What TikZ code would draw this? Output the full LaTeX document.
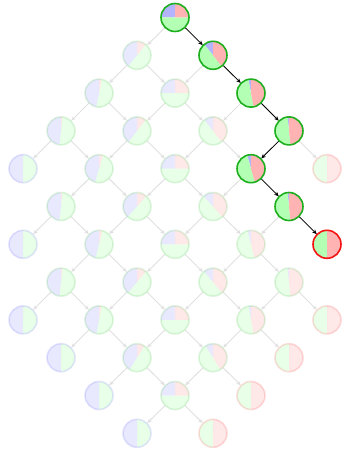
\documentclass[tikz,border=0pt]{standalone}
\usetikzlibrary{arrows.meta}
\definecolor{pieB}{RGB}{179,179,255}
\definecolor{pieG}{RGB}{179,255,179}
\definecolor{pieR}{RGB}{255,179,179}
\definecolor{bdG}{RGB}{30,175,30}
\definecolor{bdR}{RGB}{245,20,20}
\definecolor{bdB}{RGB}{70,70,245}
\definecolor{edgeF}{RGB}{224,224,224}
\newcommand\pienode[5]{%
 \pgfmathsetmacro\bop{(#4)^1.6}%
 \begin{scope}[shift={(n-#1-#2.center)}, opacity=#4]
  \fill[pieB] (0,0) -- (90:14pt) arc[start angle=90, delta angle=#3, radius=14pt] -- cycle;
  \fill[pieG] (0,0) -- ({90+#3}:14pt) arc[start angle={90+#3}, delta angle=180, radius=14pt] -- cycle;
  \fill[pieR] (0,0) -- ({270+#3}:14pt) arc[start angle={270+#3}, end angle=450, radius=14pt] -- cycle;
  \draw[color=#5, line width=1.6pt, draw opacity=\bop] (0,0) circle[radius=14pt];
 \end{scope}}
\begin{document}
\begin{tikzpicture}[x=1pt,y=1pt,
  cell/.style={circle, minimum size=29pt, inner sep=0pt, outer sep=0pt},
  fedge/.style={draw=edgeF, line width=0.9pt, -{Stealth[length=4.5pt,width=4pt]}},
  pedge/.style={draw=black, line width=0.8pt, -{Stealth[length=4.5pt,width=4pt]}}]
\useasboundingbox (0,0) rectangle (342,-454);
% node anchors
\foreach \a/\b in {0/0,1/0,0/1,2/0,1/1,0/2,3/0,2/1,1/2,0/3,4/0,3/1,2/2,1/3,0/4,
  4/1,3/2,2/3,1/4,5/1,4/2,3/3,2/4,1/5,5/2,4/3,3/4,2/5,6/2,5/3,4/4,3/5,2/6,
  6/3,5/4,4/5,3/6,6/4,5/5,4/6,6/5,5/6} {
  \pgfmathsetmacro\px{175+38*(\b-\a)}
  \pgfmathsetmacro\py{-(17.5+37.8*(\a+\b))}
  \node[cell] (n-\a-\b) at (\px,\py) {};
}
% faded edges
\foreach \a/\b in {0/0,1/0,0/1,2/0,1/1,0/2,3/0,2/1,1/2,0/3,3/1,2/2,1/3,
  4/1,3/2,2/3,1/4,4/2,3/3,2/4,5/2,4/3,3/4,2/5,5/3,4/4,3/5,5/4,4/5,5/5} {
  \pgfmathtruncatemacro\aa{\a+1}
  \pgfmathtruncatemacro\bb{\b+1}
  \draw[fedge] (n-\a-\b) -- (n-\aa-\b);
  \draw[fedge] (n-\a-\b) -- (n-\a-\bb);
}
% chosen path
\draw[pedge] (n-0-0) -- (n-0-1);
\draw[pedge] (n-0-1) -- (n-0-2);
\draw[pedge] (n-0-2) -- (n-0-3);
\draw[pedge] (n-0-3) -- (n-1-3);
\draw[pedge] (n-1-3) -- (n-1-4);
\draw[pedge] (n-1-4) -- (n-1-5);
% pies
\foreach \a/\b/\t/\o/\c in {0/0/90/1/bdG,1/0/141/.3/bdG,0/1/39/1/bdG,
  2/0/169/.3/bdG,1/1/90/.3/bdG,0/2/11/1/bdG,
  3/0/174/.3/bdG,2/1/142/.3/bdG,1/2/38/.3/bdG,0/3/6/1/bdG,
  4/0/180/.3/bdB,3/1/164/.3/bdG,2/2/90/.3/bdG,1/3/16/1/bdG,0/4/0/.3/bdR,
  4/1/174/.3/bdG,3/2/138/.3/bdG,2/3/42/.3/bdG,1/4/6/1/bdG,
  5/1/180/.3/bdB,4/2/166/.3/bdG,3/3/90/.3/bdG,2/4/14/.3/bdG,1/5/0/1/bdR,
  5/2/174/.3/bdG,4/3/140/.3/bdG,3/4/40/.3/bdG,2/5/6/.3/bdG,
  6/2/180/.3/bdB,5/3/170/.3/bdG,4/4/90/.3/bdG,3/5/10/.3/bdG,2/6/0/.3/bdR,
  6/3/180/.3/bdB,5/4/148/.3/bdG,4/5/32/.3/bdG,3/6/0/.3/bdR,
  6/4/180/.3/bdB,5/5/90/.3/bdG,4/6/0/.3/bdR,
  6/5/180/.3/bdB,5/6/0/.3/bdR} {
  \pienode{\a}{\b}{\t}{\o}{\c}
}
\end{tikzpicture}
\end{document}
